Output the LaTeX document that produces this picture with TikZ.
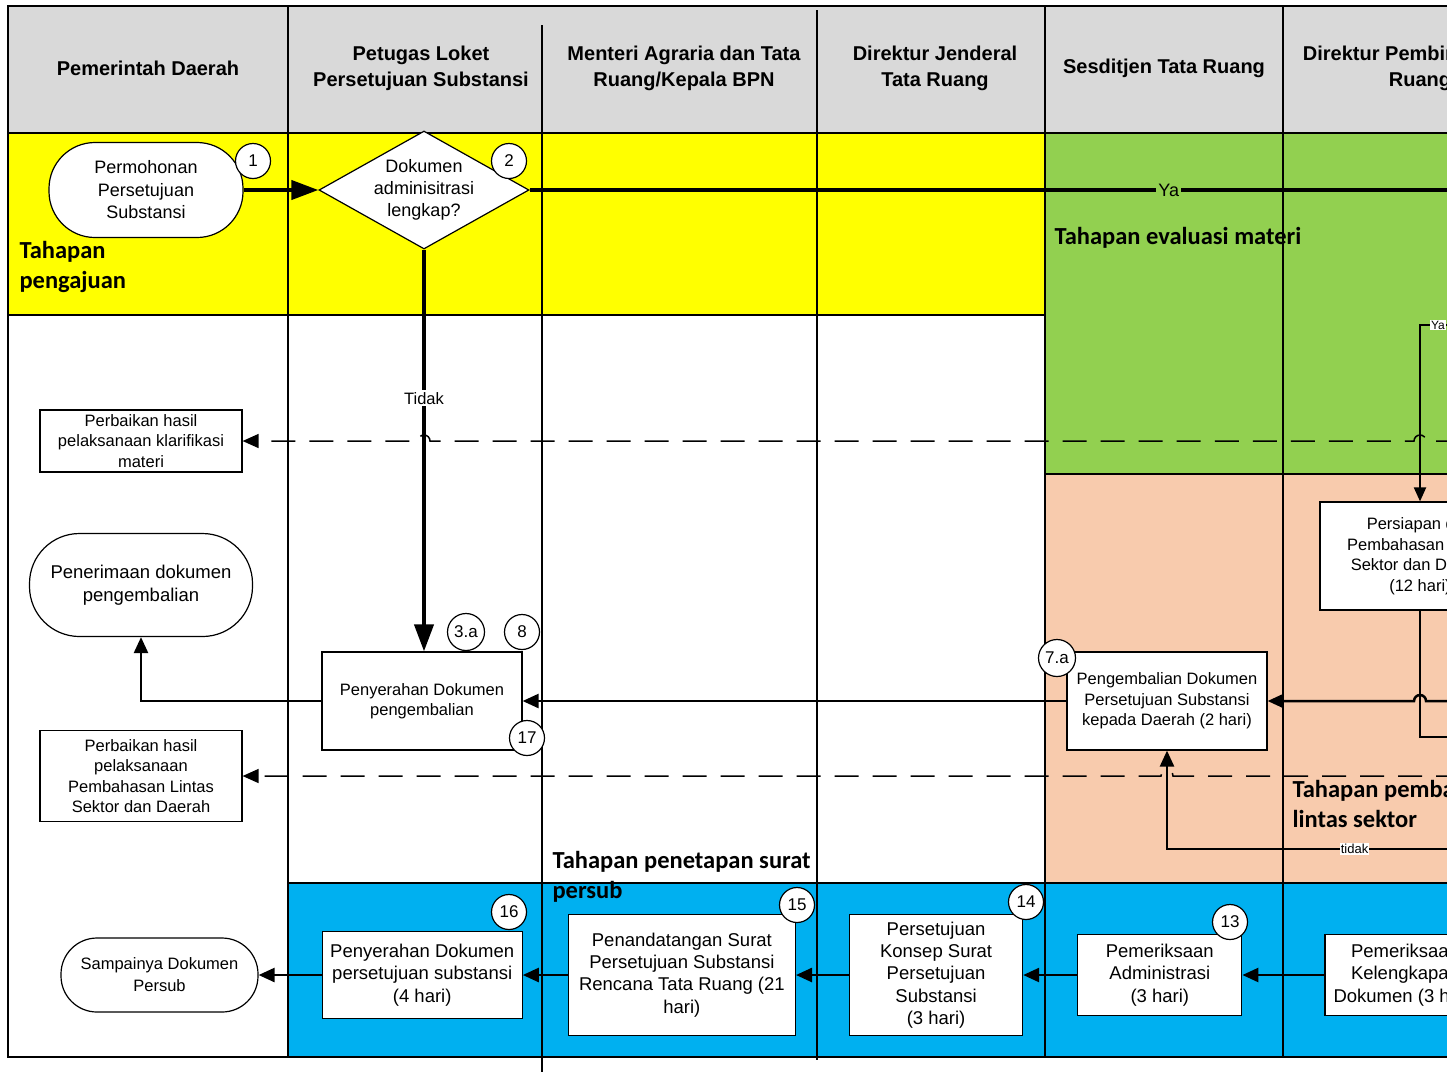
\documentclass[tikz,border=0pt]{standalone}
\usepackage{fontspec}
\setmainfont{Liberation Sans}
\newfontfamily\tahapfont{Carlito}
\usepackage{tikz}
\usetikzlibrary{positioning}
\usetikzlibrary{arrows.meta}
\usetikzlibrary{shapes.geometric}
\definecolor{abu}{RGB}{217,217,217}
\definecolor{kuning}{RGB}{255,255,0}
\definecolor{hijau}{RGB}{146,208,80}
\definecolor{krem}{RGB}{248,203,173}
\definecolor{biru}{RGB}{0,176,240}
\tikzset{
	kotak/.style={draw, fill=white, line width=1.2pt, align=center, inner sep=1pt, font=\fontsize{16.5}{20.5}\selectfont},
	kotakbiru/.style={kotak, font=\fontsize{18.5}{22.3}\selectfont},
	ujung/.style={draw, fill=white, line width=1.2pt, align=center, rounded corners=#1},
	nomor/.style={circle, draw, fill=white, line width=1.2pt, minimum size=35pt, inner sep=0pt, font=\fontsize{17}{17}\selectfont},
	judul/.style={align=center, font=\bfseries\fontsize{20}{26}\selectfont},
	tahap/.style={anchor=west, align=left, font=\tahapfont\bfseries\fontsize{24.5}{30}\selectfont},
	garis/.style={line width=1.2pt},
	panah/.style={line width=2.5pt, -{Triangle[length=16pt,width=14pt]}},
	panahtebal/.style={line width=4pt, -{Triangle[length=27pt,width=19pt]}},
	putus/.style={line width=1.5pt, dash pattern=on 24pt off 14pt, -{Triangle[length=16pt,width=14pt]}},
}
\begin{document}
\begin{tikzpicture}[x=1pt, y=-1pt]
		\useasboundingbox (0,0) rectangle (1447,1072);
		\clip (0,0) rectangle (1447,1072);
		\fill[abu] (8,6) rectangle (1460,133);
		\fill[kuning] (8,133) rectangle (1045,315);
		\fill[hijau] (1045,133) rectangle (1460,474);
		\fill[krem] (1045,474) rectangle (1460,883);
		\fill[biru] (288,883) rectangle (1460,1057);
		\draw[garis] (1460,6) -- (8,6) -- (8,1057) -- (1460,1057);
		\draw[garis] (8,133) -- (1460,133);
		\draw[garis] (8,315) -- (1045,315);
		\draw[garis] (1045,474) -- (1460,474);
		\draw[garis] (288,883) -- (1460,883);
		\draw[garis] (288,6) -- (288,1057);
		\draw[garis] (542,25) -- (542,1072);
		\draw[garis] (817,10) -- (817,1060);
		\draw[garis] (1045,6) -- (1045,1057);
		\draw[garis] (1283,6) -- (1283,1057);
		\node[judul] (kolom1) at (148,68) {Pemerintah Daerah};
		\node[judul] (kolom2) at (421,68) {Petugas Loket\\Persetujuan Substansi};
		\node[judul] (kolom3) at (684,68) {Menteri Agraria dan Tata\\Ruang/Kepala BPN};
		\node[judul] (kolom4) at (935,68) {Direktur Jenderal\\Tata Ruang};
		\node[judul] (kolom5) at (1164,68) {Sesditjen Tata Ruang};
		\node[judul] (kolom6) at (1420,68) {Direktur Pembinaan Tata\\Ruang};
		\node[tahap] (tahap1) at (16,267) {Tahapan\\pengajuan};
		\node[tahap] (tahap2) at (1051,238) {Tahapan evaluasi materi};
		\node[tahap] (tahap3) at (1289,804) {Tahapan pembahasan\\lintas sektor};
		\node[tahap] (tahap4) at (549,877) {Tahapan penetapan surat\\persub};
		\node[ujung=46pt, minimum width=194pt, minimum height=95pt, font=\fontsize{18}{22.5}\selectfont] (mohon) at (146,190) {Permohonan\\Persetujuan\\Substansi};
		\node[draw, fill=white, line width=1.2pt, diamond, aspect=1.78, inner sep=0pt, minimum width=210pt, minimum height=118pt, align=center, font=\fontsize{18}{22}\selectfont] (cek) at (424,190) {Dokumen\\adminisitrasi\\lengkap?};
		\node[kotak, minimum width=202pt, minimum height=62pt] (perbaikanA) at (141,441) {Perbaikan hasil\\pelaksanaan klarifikasi\\materi};
		\node[ujung=50pt, minimum width=223pt, minimum height=103pt, font=\fontsize{18.5}{23}\selectfont] (terima) at (141,585) {Penerimaan dokumen\\pengembalian};
		\node[kotak, minimum width=200pt, minimum height=98pt] (serah) at (422,701) {Penyerahan Dokumen\\pengembalian};
		\node[kotak, minimum width=202pt, minimum height=91pt] (perbaikanB) at (141,776) {Perbaikan hasil\\pelaksanaan\\Pembahasan Lintas\\Sektor dan Daerah};
		\node[kotak, minimum width=200pt, minimum height=98pt] (kembali) at (1167,701) {Pengembalian Dokumen\\Persetujuan Substansi\\kepada Daerah (2 hari)};
		\node[kotak, minimum width=200pt, minimum height=108pt] (persiapan) at (1420,556) {Persiapan dan\\Pembahasan Lintas\\Sektor dan Daerah\\(12 hari)};
		\node[kotakbiru, minimum width=160pt, minimum height=81pt] (periksakel) at (1405,975) {Pemeriksaan\\Kelengkapan\\Dokumen (3 hari)};
		\node[kotakbiru, minimum width=164pt, minimum height=81pt, left=82pt of periksakel] (periksaadm) {Pemeriksaan\\Administrasi\\(3 hari)};
		\node[kotakbiru, minimum width=173pt, minimum height=121pt, left=54pt of periksaadm] (konsep) {Persetujuan\\Konsep Surat\\Persetujuan\\Substansi\\(3 hari)};
		\node[kotakbiru, minimum width=227pt, minimum height=121pt, left=53pt of konsep] (tandatangan) {Penandatangan Surat\\Persetujuan Substansi\\Rencana Tata Ruang (21\\hari)};
		\node[kotakbiru, minimum width=200pt, minimum height=87pt, left=45pt of tandatangan] (serahsub) {Penyerahan Dokumen\\persetujuan substansi\\(4 hari)};
		\node[ujung=36pt, minimum width=197pt, minimum height=74pt, font=\fontsize{16.5}{22}\selectfont, left=63pt of serahsub] (sampai) {Sampainya Dokumen\\Persub};
		\coordinate (kananYa) at (1460,325);
		\coordinate (kananA) at (1460,441);
		\coordinate (kananB) at (1460,701);
		\coordinate (kananC) at (1460,737);
		\coordinate (kananE) at (1460,776);
		\coordinate (kananD) at (1460,849);
		\path[draw, panahtebal] (mohon) -- (cek);
		\path[draw, line width=4pt] (cek.east) -- node[pos=0.687, fill=hijau, inner sep=2pt, font=\fontsize{18}{18}\selectfont] {Ya} (cek.east -| kananYa);
		\path[draw, panahtebal] (cek.south) -- node[pos=0.37, fill=white, inner sep=2pt, font=\fontsize{16.5}{16.5}\selectfont] {Tidak} (cek.south |- serah.north);
		\path[draw, putus] (kananA) -- (1426,441) arc[start angle=0, end angle=180, radius=6pt] -- (430,441) arc[start angle=0, end angle=180, radius=6pt] -- (perbaikanA.east);
		\path[draw, line width=2pt, -{Triangle[length=14pt,width=12pt]}] (kananYa) -- node[pos=0.55, fill=white, inner sep=1pt, font=\fontsize{12}{12}\selectfont] {Ya} (persiapan.north |- kananYa) -- (persiapan.north);
		\path[draw, line width=2pt] (persiapan.south) |- (kananC);
		\path[draw, panah] (kananB) -- (1426,701) arc[start angle=0, end angle=180, radius=6pt] -- (kembali.east);
		\path[draw, panah] (kembali.west) -- (serah.east);
		\path[draw, panah] (serah.west) -| (terima.south);
		\path[draw, putus] (kananE) -- (1173,776) arc[start angle=0, end angle=180, radius=6pt] -- (perbaikanB.east);
		\path[draw, panah] (kananD) -- node[pos=0.36, fill=white, inner sep=1pt, font=\fontsize{13}{13}\selectfont] {tidak} (kembali.south |- kananD) -- (kembali.south);
		\path[draw, panah] (periksakel) -- (periksaadm);
		\path[draw, panah] (periksaadm) -- (konsep);
		\path[draw, panah] (konsep) -- (tandatangan);
		\path[draw, panah] (tandatangan) -- (serahsub);
		\path[draw, panah] (serahsub) -- (sampai);
		\node[nomor] (no1) at (253,161) {1};
		\node[nomor] (no2) at (509,161) {2};
		\node[nomor, minimum size=37pt] (no3a) at (466,632) {3.a};
		\node[nomor] (no8) at (522,632) {8};
		\node[nomor] (no17) at (527,738) {17};
		\node[nomor, minimum size=37pt] (no7a) at (1057,658) {7.a};
		\node[nomor] (no16) at (509,912) {16};
		\node[nomor] (no15) at (797,905) {15};
		\node[nomor] (no14) at (1026,902) {14};
		\node[nomor] (no13) at (1230,922) {13};
	\end{tikzpicture}
\end{document}
